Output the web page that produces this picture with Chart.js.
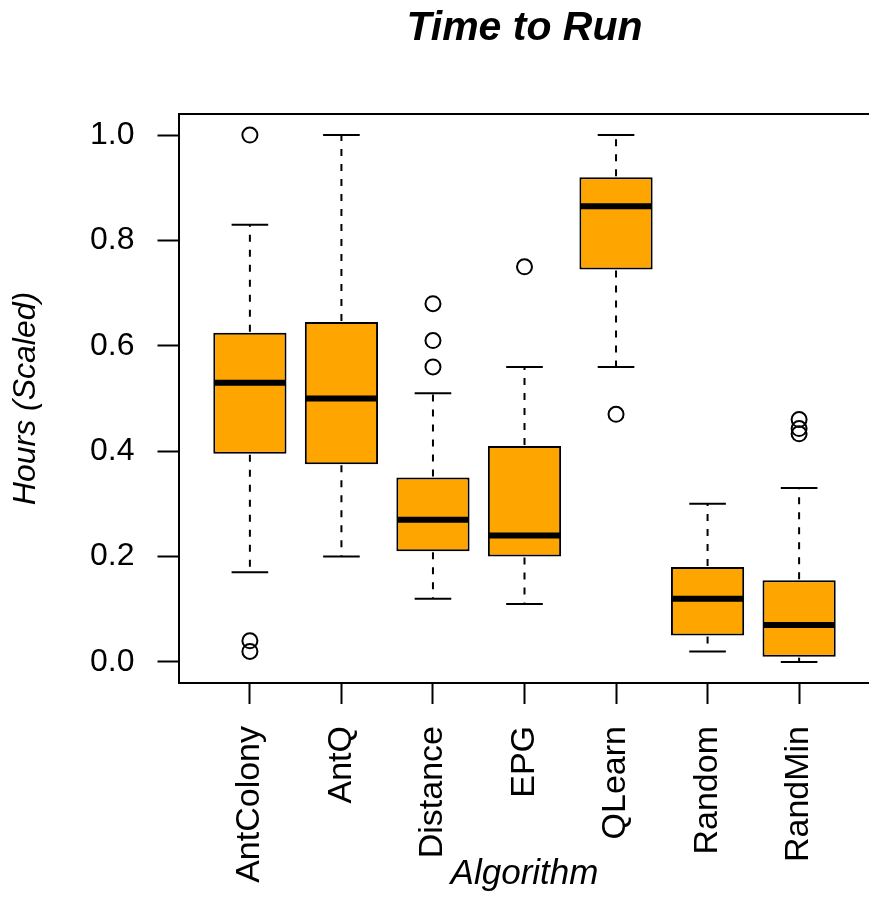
<!DOCTYPE html>
<html>
<head>
<meta charset="utf-8">
<script src="https://cdn.jsdelivr.net/npm/chart.js@4/dist/chart.umd.min.js"></script>
<style>
html, body { margin: 0; padding: 0; overflow: hidden; background: #fff; width: 869px; height: 901px; }
#c { display: block; }
</style>
</head>
<body>
<canvas id="c" width="880" height="901"></canvas>
<script>
// ---- data ----
const categories = ['AntColony', 'AntQ', 'Distance', 'EPG', 'QLearn', 'Random', 'RandMin'];
const lowerWhisker = [0.17, 0.20, 0.12, 0.11, 0.56, 0.02, 0.00];
const q1Values     = [0.395, 0.375, 0.21, 0.20, 0.745, 0.05, 0.01];
const medianValues = [0.53, 0.50, 0.27, 0.24, 0.865, 0.12, 0.07];
const q3Values     = [0.625, 0.645, 0.35, 0.41, 0.92, 0.18, 0.155];
const upperWhisker = [0.83, 1.00, 0.51, 0.56, 1.00, 0.30, 0.33];
const outlierValues = [
  [1.0, 0.04, 0.02],
  [],
  [0.68, 0.61, 0.56],
  [0.75],
  [0.47],
  [],
  [0.46, 0.443, 0.433]
];
const yTickValues = [0.0, 0.2, 0.4, 0.6, 0.8, 1.0];
const chartTitle = 'Time to Run';
const xTitle = 'Algorithm';
const yTitle = 'Hours (Scaled)';

// ---- derived structures ----
const boxData = categories.map((c, i) => ({ x: i + 1, y: [q1Values[i], q3Values[i]] }));
const outlierData = [];
outlierValues.forEach((arr, i) => arr.forEach(v => outlierData.push({ x: i + 1, y: v })));

const FONT = "'Liberation Sans', Arial, Helvetica, sans-serif";
const BOX_HALF = 0.4;   // box half width in category units
const CAP_HALF = 0.2;   // staple half width

const boxPlugin = {
  id: 'boxWhiskers',
  afterDatasetsDraw(chart) {
    const ctx = chart.ctx;
    const xs = chart.scales.x, ys = chart.scales.y;
    ctx.save();
    ctx.strokeStyle = '#000';
    ctx.lineCap = 'butt';
    const seg = (x1, y1, x2, y2) => { ctx.beginPath(); ctx.moveTo(x1, y1); ctx.lineTo(x2, y2); ctx.stroke(); };
    categories.forEach((c, i) => {
      const px = xs.getPixelForValue(i + 1);
      const capL = xs.getPixelForValue(i + 1 - CAP_HALF), capR = xs.getPixelForValue(i + 1 + CAP_HALF);
      const boxL = xs.getPixelForValue(i + 1 - BOX_HALF), boxR = xs.getPixelForValue(i + 1 + BOX_HALF);
      const yQ1 = ys.getPixelForValue(q1Values[i]);
      const yQ3 = ys.getPixelForValue(q3Values[i]);
      const yLo = ys.getPixelForValue(lowerWhisker[i]);
      const yHi = ys.getPixelForValue(upperWhisker[i]);
      const yMed = ys.getPixelForValue(medianValues[i]);
      ctx.lineWidth = 2;
      ctx.setLineDash([7, 8]);
      seg(px, yQ3 - 1, px, yHi);
      seg(px, yQ1 + 1, px, yLo);
      ctx.setLineDash([]);
      seg(capL, yHi, capR, yHi);
      seg(capL, yLo, capR, yLo);
      ctx.lineWidth = 6;
      seg(boxL + 1, yMed, boxR - 1, yMed);
    });
    ctx.restore();
  }
};

new Chart(document.getElementById('c'), {
  type: 'bar',
  data: {
    datasets: [
      {
        type: 'bar',
        data: boxData,
        backgroundColor: '#FFA500',
        borderColor: '#000',
        borderWidth: 2,
        borderSkipped: false,
        categoryPercentage: 0.8,
        barPercentage: 1.0,
        order: 2
      },
      {
        type: 'scatter',
        data: outlierData,
        pointStyle: 'circle',
        pointRadius: 7.5,
        pointBorderWidth: 2,
        pointBackgroundColor: 'rgba(0,0,0,0)',
        pointBorderColor: '#000',
        order: 1
      }
    ]
  },
  options: {
    responsive: false,
    animation: false,
    devicePixelRatio: 1,
    layout: { padding: { top: 0, left: 0, right: 5.5, bottom: 6 } },
    plugins: { legend: { display: false }, tooltip: { enabled: false }, title: { display: false } },
    scales: {
      x: {
        type: 'linear',
        position: 'bottom',
        offset: false,
        min: 0.22,
        max: 7.78,
        afterBuildTicks: (s) => { s.ticks = categories.map((c, i) => ({ value: i + 1 })); },
        afterFit: (s) => { s.height = 212; },
        grid: { display: true, offset: false, drawOnChartArea: false, drawTicks: true, tickLength: 21, tickColor: '#000', tickWidth: 2, color: '#000' },
        border: { display: true, color: '#000', width: 2 },
        ticks: {
          autoSkip: false,
          maxRotation: 90,
          minRotation: 90,
          padding: 22,
          color: '#000',
          font: { family: FONT, size: 34 },
          callback: (v) => categories[Math.round(v) - 1]
        },
        title: { display: true, text: xTitle, color: '#000', padding: { top: 0, bottom: 0 }, font: { family: FONT, size: 35, style: 'italic' } }
      },
      top: {
        type: 'linear',
        axis: 'x',
        position: 'top',
        offset: false,
        afterFit: (s) => { s.height = 114; },
        grid: { display: false },
        border: { display: true, color: '#000', width: 2 },
        ticks: { display: false },
        title: { display: true, text: chartTitle, color: '#000', padding: { top: 4.5, bottom: 0 }, font: { family: FONT, size: 41, style: 'italic', weight: 'bold' } }
      },
      y: {
        type: 'linear',
        position: 'left',
        min: -0.04,
        max: 1.04,
        afterBuildTicks: (s) => { s.ticks = yTickValues.map(v => ({ value: v })); },
        afterFit: (s) => { s.width = 178.5; },
        grid: { display: true, drawOnChartArea: false, drawTicks: true, tickLength: 21, tickColor: '#000', tickWidth: 2, color: '#000' },
        border: { display: true, color: '#000', width: 2 },
        ticks: {
          padding: 23,
          color: '#000',
          font: { family: FONT, size: 32 },
          callback: (v) => Number(v).toFixed(1)
        },
        title: { display: true, text: yTitle, color: '#000', padding: { top: 7, bottom: 0 }, font: { family: FONT, size: 32, style: 'italic' } }
      }
    }
  },
  plugins: [boxPlugin]
});
</script>
</body>
</html>
